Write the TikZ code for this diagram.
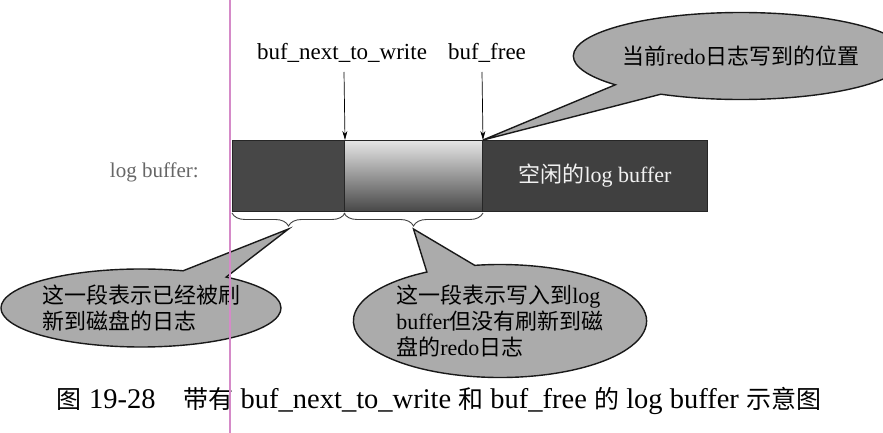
\documentclass[tikz,border=0pt]{standalone}
\usepackage{fontspec}
\setmainfont{Liberation Serif}
\newfontfamily\cjk{Noto Sans CJK SC}
\newcommand\zh[1]{{\cjk #1}}
\newcommand\capzh[1]{{\cjk\fontsize{25}{30}\selectfont #1}}
\usetikzlibrary{shapes.callouts,decorations.pathreplacing,arrows.meta,calc}
\definecolor{segdark}{HTML}{474747}
\definecolor{segright}{HTML}{404040}
\definecolor{calloutgray}{HTML}{ABABAB}
\definecolor{pinkline}{HTML}{D58AC8}
\begin{document}
\begin{tikzpicture}[x=1pt,y=-1pt,
  seg/.style={draw=black!85,line width=1pt,minimum height=71pt,inner sep=0,anchor=north west},
  lbl/.style={font=\fontsize{23}{26}\selectfont,inner sep=0},
  ptr/.style={-{Stealth[length=9pt,width=5pt]},line width=0.7pt},
  brc/.style={decorate,decoration={brace,amplitude=13pt,mirror},line width=0.9pt,draw=black!75},
  bubble/.style={ellipse callout,draw=black!90,line width=1.4pt,fill=calloutgray,inner sep=0,
    font=\fontsize{22}{26}\selectfont,align=left,callout pointer arc=20},
]
\useasboundingbox (0,0) rectangle (883,433);

% bar segments
\node[seg,fill=segdark,minimum width=112pt] (s1) at (232,140) {};
\node[seg,top color=black!10,bottom color=black!72,minimum width=138pt] (s2) at (344,140) {};
\node[seg,fill=segright,minimum width=225pt,text=black!5,font=\fontsize{22}{24}\selectfont] (s3) at (482,140) {\zh{空闲的}log buffer};

\node[font=\fontsize{21}{24}\selectfont,text=black!60,anchor=east,inner sep=0] (lb) at (199,172) {log buffer:};

% pointer labels
\node[lbl] (bnw) at (342,53) {buf\_next\_to\_write};
\node[lbl] (bfree) at (487,53) {buf\_free};
\coordinate (a1) at (344,72);
\coordinate (a2) at (482,72);
\draw[ptr] (a1) -- (s1.north east);
\draw[ptr] (a2) -- (s2.north east);

% braces
\draw[brc] ($(s1.south west)+(0,1)$) -- ($(s1.south east)+(0,1)$);
\draw[brc] ($(s2.south west)+(0,1)$) -- ($(s2.south east)+(0,1)$);
\coordinate (t1) at ($(s1.south west)!0.5!(s1.south east)+(0,17)$);
\coordinate (t2) at ($(s2.south west)!0.5!(s2.south east)+(0,17)$);

% callouts
\node[bubble,minimum width=278pt,minimum height=87pt,callout absolute pointer={(s2.north east)}] (c1) at (741,56)
  {\zh{当前}redo\zh{日志写到的位置}};
\node[bubble,minimum width=273pt,minimum height=78pt,callout absolute pointer={(t1)}] (c2) at (141,308)
  {\zh{这一段表示已经被刷}\\\zh{新到磁盘的日志}};
\node[bubble,minimum width=272pt,minimum height=113pt,callout absolute pointer={(t2)}] (c3) at (500,321)
  {\zh{这一段表示写入到}log\\buffer\zh{但没有刷新到磁}\\\zh{盘的}redo\zh{日志}};

% caption
\node[font=\fontsize{28.5}{30}\selectfont,inner sep=0] (cap) at (439,401)
  {\capzh{图} 19-28\hspace{28pt}\capzh{带有} buf\_next\_to\_write \capzh{和} buf\_free \capzh{的} log buffer \capzh{示意图}};

% scan margin line
\draw[pinkline,line width=1.5pt] (230,0) -- (230,433);
\end{tikzpicture}
\end{document}
